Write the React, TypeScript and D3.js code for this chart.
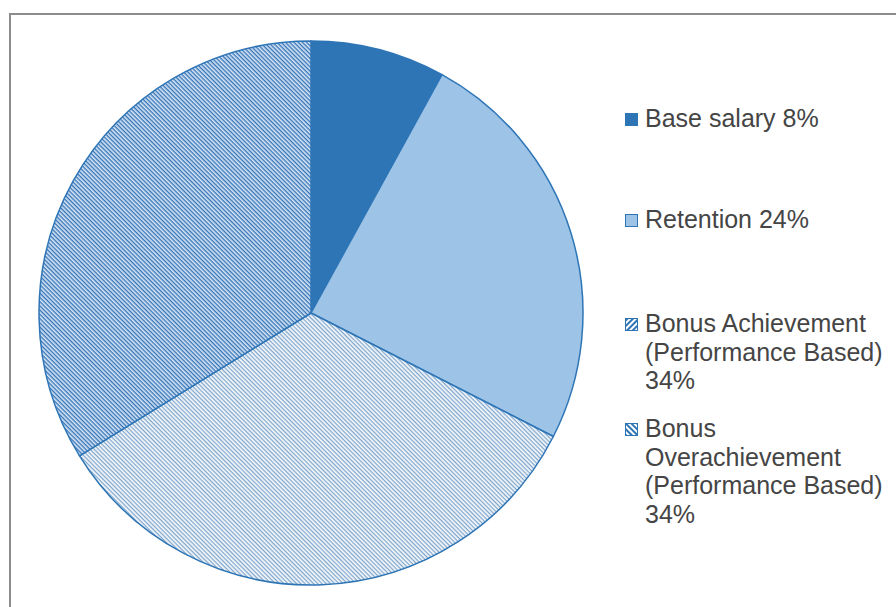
import React from "react";
import * as d3 from "d3";

const categories = [
  "Base salary",
  "Retention",
  "Bonus Achievement (Performance Based)",
  "Bonus Overachievement (Performance Based)",
];
const values = [8, 24.5, 33.7, 33.8];
const legendLines = [
  ["Base salary 8%"],
  ["Retention 24%"],
  ["Bonus Achievement", "(Performance Based)", "34%"],
  ["Bonus", "Overachievement", "(Performance Based)", "34%"],
];
const legendBaselines = [127, 228, 332, 437];

const W = 896;
const H = 607;
const cx = 311;
const cy = 313;
const R = 272;
const lineH = 28.5;

const fills = ["#2e75b6", "#9dc3e6", "url(#patAch)", "url(#patOver)"];
const iconFills = ["#2e75b6", "#9dc3e6", "url(#iconAch)", "url(#iconOver)"];

export default function App() {
  const pie = d3
    .pie<number>()
    .value((d) => d)
    .sort(null)
    .startAngle(0)
    .endAngle(2 * Math.PI);
  const arcs = pie(values);
  const arcGen = d3.arc<d3.PieArcDatum<number>>().innerRadius(0).outerRadius(R);

  return (
    <svg
      width={W}
      height={H}
      style={{ position: "absolute", left: 0, top: 0, background: "#fff" }}
      fontFamily="'Liberation Sans', Arial, sans-serif"
    >
      <defs>
        <pattern id="patOver" patternUnits="userSpaceOnUse" width={3} height={3} patternTransform="rotate(45)">
          <rect width={3} height={3} fill="#ffffff" />
          <rect y={0} width={3} height={1.5} fill="#3674b6" />
          <rect y={1.5} width={3} height={0.9} fill="#9fc2e6" />
        </pattern>
        <pattern id="patAch" patternUnits="userSpaceOnUse" width={3} height={3} patternTransform="rotate(45)">
          <rect width={3} height={3} fill="#f6f9fc" />
          <rect y={0} width={3} height={1.25} fill="#7fa5cb" />
        </pattern>
        <pattern id="iconAch" patternUnits="userSpaceOnUse" width={4} height={4} patternTransform="rotate(-45)">
          <rect width={4} height={4} fill="#ffffff" />
          <rect y={0} width={4} height={2} fill="#2e75b6" />
        </pattern>
        <pattern id="iconOver" patternUnits="userSpaceOnUse" width={4} height={4} patternTransform="rotate(45)">
          <rect width={4} height={4} fill="#ffffff" />
          <rect y={0} width={4} height={2} fill="#2e75b6" />
        </pattern>
      </defs>

      <rect x={10} y={14} width={W + 20} height={H + 20} fill="#ffffff" stroke="#8c8c8c" strokeWidth={2} />

      <g transform={`translate(${cx},${cy})`}>
        {arcs.map((a, i) => (
          <path
            key={categories[i]}
            d={arcGen(a) || ""}
            fill={fills[i]}
            stroke="#2e75b6"
            strokeWidth={1.5}
            strokeLinejoin="round"
          />
        ))}
      </g>

      {legendLines.map((lines, i) => (
        <g key={categories[i]}>
          <rect
            x={625.5}
            y={legendBaselines[i] - 13.5}
            width={12}
            height={12}
            fill={iconFills[i]}
            stroke="#2e75b6"
            strokeWidth={1}
          />
          <text x={645} y={legendBaselines[i]} fontSize={25} fill="#454545">
            {lines.map((l, j) => (
              <tspan key={j} x={645} y={legendBaselines[i] + j * lineH}>
                {l}
              </tspan>
            ))}
          </text>
        </g>
      ))}
    </svg>
  );
}
